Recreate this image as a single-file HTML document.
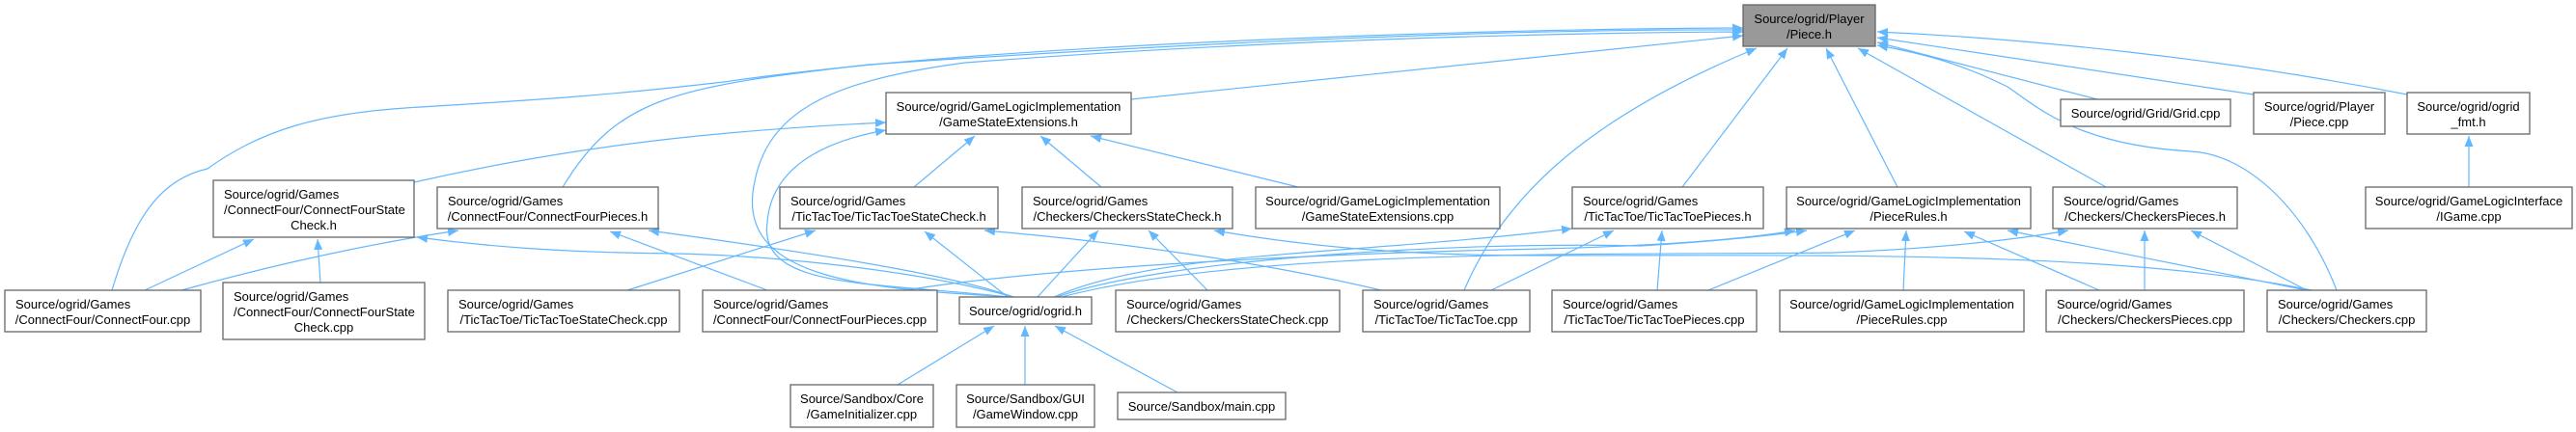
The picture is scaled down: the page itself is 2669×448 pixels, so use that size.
<!DOCTYPE html>
<html><head><meta charset="utf-8"><style>
html,body{margin:0;padding:0;background:#fff;}
svg{display:block;}
text{font-family:"Liberation Sans",Arial,sans-serif;font-size:13px;fill:#000;}
.e{fill:none;stroke:#63b7ff;stroke-width:1.2;marker-end:url(#a);}
.n{fill:#fff;stroke:#666;stroke-width:1.3;}
</style></head><body>
<svg width="2669" height="448" viewBox="0 0 2669 448" xmlns="http://www.w3.org/2000/svg">
<defs><marker id="a" markerUnits="userSpaceOnUse" markerWidth="11" markerHeight="9" refX="11" refY="4.5" orient="auto"><path d="M0,0 L11,4.5 L0,9 z" fill="#63b7ff"/></marker></defs>
<g>
<path class="e" d="M116,301 C140,220 170,185 215,175 C270,135 330,118 420,112 C550,104 620,100 750,85 C1000,48 1500,30 1806,29"/>
<path class="e" d="M583,194 C640,100 700,90 900,67 C1300,40 1600,30 1806,31"/>
<path class="e" d="M1172,103 L1806,37"/>
<path class="e" d="M1050,308 C900,300 770,290 780,200 C790,120 850,85 1000,65 C1300,42 1600,34 1806,33"/>
<path class="e" d="M1045,308 C900,292 785,300 795,230 C800,170 860,145 918,135"/>
<path class="e" d="M429,189 C600,150 750,135 918,127"/>
<path class="e" d="M947,194 L1010,141"/>
<path class="e" d="M1141,194 L1078,141"/>
<path class="e" d="M1345,194 L1130,141"/>
<path class="e" d="M150,301 L263,248"/>
<path class="e" d="M332,293 L329,248"/>
<path class="e" d="M1050,308 C950,280 800,265 700,263 C580,262 500,255 432,246"/>
<path class="e" d="M188,301 C300,270 400,250 475,239"/>
<path class="e" d="M795,301 L632,240"/>
<path class="e" d="M1050,308 C1000,290 900,270 672,239"/>
<path class="e" d="M650,301 L845,239"/>
<path class="e" d="M1044,308 L958,240"/>
<path class="e" d="M1431,301 C1300,270 1150,250 1020,239"/>
<path class="e" d="M1075,308 L1138,239"/>
<path class="e" d="M1251,301 L1190,239"/>
<path class="e" d="M2395,301 C2200,260 1900,265 1600,265 C1450,265 1350,255 1258,239"/>
<path class="e" d="M1092,308 C1200,260 1400,265 1629,237"/>
<path class="e" d="M1545,301 L1672,239"/>
<path class="e" d="M1717,301 L1722,239"/>
<path class="e" d="M1517,301 C1560,200 1650,120 1820,50"/>
<path class="e" d="M1743,194 L1852,50"/>
<path class="e" d="M1966,194 L1892,50"/>
<path class="e" d="M2182,194 L1925,50"/>
<path class="e" d="M2421,301 C2390,220 2330,160 2270,157 C2150,150 2110,110 2080,90 C2030,65 1990,55 1945,47"/>
<path class="e" d="M2173,103 L1945,44"/>
<path class="e" d="M2335,98 L1945,39"/>
<path class="e" d="M2494,98 C2300,60 2100,40 1945,33"/>
<path class="e" d="M2558,194 L2558,141"/>
<path class="e" d="M1095,308 C1200,270 1500,250 1700,255 C1780,250 1830,245 1872,239"/>
<path class="e" d="M1770,301 L1922,239"/>
<path class="e" d="M1972,301 L1975,239"/>
<path class="e" d="M2175,301 L2035,240"/>
<path class="e" d="M2390,301 L2080,239"/>
<path class="e" d="M938,301 C1100,275 1400,262 1600,258 C1750,254 1820,246 1860,239"/>
<path class="e" d="M1100,308 C1300,255 1700,265 1900,262 C2000,258 2080,250 2143,239"/>
<path class="e" d="M2222,301 L2222,239"/>
<path class="e" d="M2390,301 L2270,239"/>
<path class="e" d="M930,399 L1030,338"/>
<path class="e" d="M1062,399 L1062,338"/>
<path class="e" d="M1220,407 L1093,338"/>
</g>
<g>
<rect x="1806" y="5" width="137" height="43" fill="#999" stroke="#666" stroke-width="1.3"/>
<text x="1874.5" y="24" text-anchor="middle">Source/ogrid/Player</text><text x="1874.5" y="40" text-anchor="middle">/Piece.h</text>

<rect class="n" x="918" y="96" width="254" height="43"/>
<text x="1045" y="115" text-anchor="middle">Source/ogrid/GameLogicImplementation</text><text x="1045" y="131" text-anchor="middle">/GameStateExtensions.h</text>

<rect class="n" x="2135" y="103" width="176" height="28"/>
<text x="2223" y="122" text-anchor="middle">Source/ogrid/Grid/Grid.cpp</text>

<rect class="n" x="2335" y="96" width="136" height="43"/>
<text x="2403" y="115" text-anchor="middle">Source/ogrid/Player</text><text x="2403" y="131" text-anchor="middle">/Piece.cpp</text>

<rect class="n" x="2494" y="96" width="127" height="43"/>
<text x="2557.5" y="115" text-anchor="middle">Source/ogrid/ogrid</text><text x="2557.5" y="131" text-anchor="middle">_fmt.h</text>

<rect class="n" x="221" y="187" width="208" height="59"/>
<text x="232" y="206">Source/ogrid/Games</text><text x="232" y="222">/ConnectFour/ConnectFourState</text><text x="325" y="238" text-anchor="middle">Check.h</text>

<rect class="n" x="453" y="194" width="229" height="43"/>
<text x="464" y="213">Source/ogrid/Games</text><text x="567.5" y="229" text-anchor="middle">/ConnectFour/ConnectFourPieces.h</text>

<rect class="n" x="808" y="194" width="226" height="43"/>
<text x="819" y="213">Source/ogrid/Games</text><text x="921" y="229" text-anchor="middle">/TicTacToe/TicTacToeStateCheck.h</text>

<rect class="n" x="1059" y="194" width="218" height="43"/>
<text x="1070" y="213">Source/ogrid/Games</text><text x="1168" y="229" text-anchor="middle">/Checkers/CheckersStateCheck.h</text>

<rect class="n" x="1301" y="194" width="253" height="43"/>
<text x="1427.5" y="213" text-anchor="middle">Source/ogrid/GameLogicImplementation</text><text x="1427.5" y="229" text-anchor="middle">/GameStateExtensions.cpp</text>

<rect class="n" x="1629" y="194" width="198" height="43"/>
<text x="1640" y="213">Source/ogrid/Games</text><text x="1728" y="229" text-anchor="middle">/TicTacToe/TicTacToePieces.h</text>

<rect class="n" x="1851" y="194" width="253" height="43"/>
<text x="1977.5" y="213" text-anchor="middle">Source/ogrid/GameLogicImplementation</text><text x="1977.5" y="229" text-anchor="middle">/PieceRules.h</text>

<rect class="n" x="2127" y="194" width="191" height="43"/>
<text x="2138" y="213">Source/ogrid/Games</text><text x="2222.5" y="229" text-anchor="middle">/Checkers/CheckersPieces.h</text>

<rect class="n" x="2451" y="194" width="214" height="43"/>
<text x="2558" y="213" text-anchor="middle">Source/ogrid/GameLogicInterface</text><text x="2558" y="229" text-anchor="middle">/IGame.cpp</text>

<rect class="n" x="5" y="301" width="203" height="43"/>
<text x="16" y="320">Source/ogrid/Games</text><text x="106.5" y="336" text-anchor="middle">/ConnectFour/ConnectFour.cpp</text>

<rect class="n" x="231" y="293" width="209" height="59"/>
<text x="242" y="312">Source/ogrid/Games</text><text x="242" y="328">/ConnectFour/ConnectFourState</text><text x="335.5" y="344" text-anchor="middle">Check.cpp</text>

<rect class="n" x="464" y="301" width="240" height="43"/>
<text x="475" y="320">Source/ogrid/Games</text><text x="584" y="336" text-anchor="middle">/TicTacToe/TicTacToeStateCheck.cpp</text>

<rect class="n" x="728" y="301" width="243" height="43"/>
<text x="739" y="320">Source/ogrid/Games</text><text x="849.5" y="336" text-anchor="middle">/ConnectFour/ConnectFourPieces.cpp</text>

<rect class="n" x="994" y="308" width="137" height="28"/>
<text x="1062.5" y="327" text-anchor="middle">Source/ogrid/ogrid.h</text>

<rect class="n" x="1156" y="301" width="232" height="43"/>
<text x="1167" y="320">Source/ogrid/Games</text><text x="1272" y="336" text-anchor="middle">/Checkers/CheckersStateCheck.cpp</text>

<rect class="n" x="1412" y="301" width="173" height="43"/>
<text x="1423" y="320">Source/ogrid/Games</text><text x="1498.5" y="336" text-anchor="middle">/TicTacToe/TicTacToe.cpp</text>

<rect class="n" x="1608" y="301" width="212" height="43"/>
<text x="1619" y="320">Source/ogrid/Games</text><text x="1714" y="336" text-anchor="middle">/TicTacToe/TicTacToePieces.cpp</text>

<rect class="n" x="1844" y="301" width="253" height="43"/>
<text x="1970.5" y="320" text-anchor="middle">Source/ogrid/GameLogicImplementation</text><text x="1970.5" y="336" text-anchor="middle">/PieceRules.cpp</text>

<rect class="n" x="2120" y="301" width="205" height="43"/>
<text x="2131" y="320">Source/ogrid/Games</text><text x="2222.5" y="336" text-anchor="middle">/Checkers/CheckersPieces.cpp</text>

<rect class="n" x="2349" y="301" width="165" height="43"/>
<text x="2360" y="320">Source/ogrid/Games</text><text x="2431.5" y="336" text-anchor="middle">/Checkers/Checkers.cpp</text>

<rect class="n" x="819" y="399" width="148" height="44"/>
<text x="893" y="418" text-anchor="middle">Source/Sandbox/Core</text><text x="893" y="434" text-anchor="middle">/GameInitializer.cpp</text>

<rect class="n" x="991" y="399" width="143" height="44"/>
<text x="1062.5" y="418" text-anchor="middle">Source/Sandbox/GUI</text><text x="1062.5" y="434" text-anchor="middle">/GameWindow.cpp</text>

<rect class="n" x="1158" y="407" width="174" height="28"/>
<text x="1245" y="426" text-anchor="middle">Source/Sandbox/main.cpp</text>
</g>
</svg>
</body></html>
